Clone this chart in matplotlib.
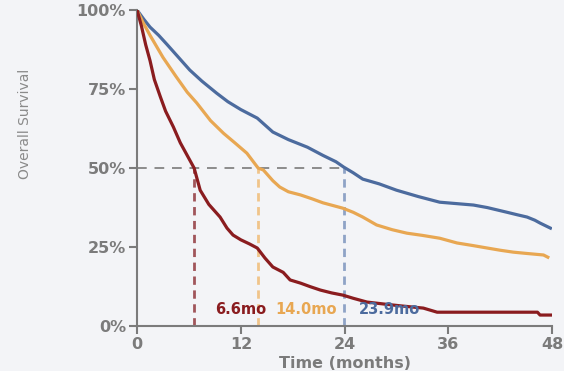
import matplotlib.pyplot as plt

# Kaplan-Meier style curves (months, % surviving)
red_t = [0, 0.5, 1.0, 1.5, 2.0, 2.7, 3.3, 4.2, 5.0, 5.8, 6.6, 7.3, 8.3, 9.6, 10.4, 11.1, 12.0, 13.0, 13.9, 14.8,
         15.7, 16.9, 17.7, 18.9, 20.0, 21.2, 22.5, 23.8, 25.0, 26.6, 28.5, 30.5, 33.1, 34.7, 40.0, 46.3, 46.6, 48.0]
red_s = [100, 95, 89, 84, 78, 72.5, 68, 63, 58, 54, 50, 43, 38.5, 34.5, 31, 28.8, 27.3, 26, 24.7, 21.5,
         18.7, 17, 14.6, 13.6, 12.5, 11.4, 10.5, 9.8, 8.8, 7.6, 7.0, 6.4, 5.7, 4.4, 4.4, 4.4, 3.5, 3.5]

orange_t = [0, 0.7, 1.5, 3.0, 4.5, 5.8, 6.9, 8.5, 10.0, 11.3, 12.7, 14.0, 14.6, 15.7, 16.5, 17.5, 18.9, 20.2, 21.5,
            23.8, 25.0, 26.1, 27.7, 29.5, 31.2, 33.0, 35.0, 37.0, 38.8, 40.5, 42.0, 43.5, 45.0, 47.0, 47.5]
orange_s = [100, 96, 92, 85, 79, 74, 70.6, 65, 61, 58, 54.7, 50, 49.4, 46, 44, 42.5, 41.5, 40.3, 39,
            37.3, 36, 34.5, 32, 30.5, 29.4, 28.7, 27.8, 26.3, 25.5, 24.7, 24, 23.4, 23, 22.5, 21.8]

blue_t = [0, 0.8, 1.5, 2.5, 3.5, 4.8, 6.1, 7.5, 9.2, 10.5, 12.0, 13.9, 15.7, 17.5, 19.7, 21.5, 23.0, 23.9,
          25.0, 26.1, 28.0, 30.0, 32.5, 35.0, 38.9, 40.5, 42.8, 44.0, 45.1, 46.0, 46.6, 47.2, 47.8]
blue_s = [100, 97, 94.6, 92, 89, 85, 81, 77.5, 73.7, 71, 68.5, 65.8, 61.4, 59, 56.6, 54, 52, 50.3,
          48.5, 46.5, 45, 43, 41, 39.2, 38.3, 37.5, 36, 35.2, 34.5, 33.5, 32.6, 31.8, 31]

medians = [6.6, 14.0, 23.9]
median_labels = ['6.6mo', '14.0mo', '23.9mo']
label_x = [9.0, 16.0, 25.6]

red = '#8a1c1f'
orange = '#e8a752'
blue = '#4c6b9e'
grey = '#7b7b7b'
bg = '#f3f4f7'

fig = plt.figure(figsize=(5.64, 3.71), dpi=100, facecolor=bg)
ax = fig.add_axes([0.243, 0.121, 0.736, 0.852])
ax.set_facecolor(bg)

# median guide lines
ax.plot([0, medians[2]], [50, 50], color='#8c8c8c', lw=1.4, ls=(0, (5, 4)), zorder=1)
for m, c in zip(medians, ['#a0555a', '#f0c48a', '#8ea3c6']):
    ax.plot([m, m], [0, 50], color=c, lw=2.0, ls=(0, (3, 2)), zorder=1)

ax.plot(blue_t, blue_s, color=blue, lw=2.3, zorder=3)
ax.plot(orange_t, orange_s, color=orange, lw=2.3, zorder=3)
ax.plot(red_t, red_s, color=red, lw=2.3, zorder=3)

for x, lab, c in zip(label_x, median_labels, [red, orange, blue]):
    ax.text(x, 5.2, lab, color=c, fontsize=10.5, fontweight='bold', ha='left', va='center', zorder=4)

ax.set_xlim(0, 48)
ax.set_ylim(0, 100)
ax.set_xticks([0, 12, 24, 36, 48])
ax.set_yticks([0, 25, 50, 75, 100])
ax.set_yticklabels(['0%', '25%', '50%', '75%', '100%'])

for s in ['top', 'right']:
    ax.spines[s].set_visible(False)
for s in ['left', 'bottom']:
    ax.spines[s].set_color(grey)
    ax.spines[s].set_linewidth(1.5)
ax.tick_params(colors=grey, width=1.5, length=6, labelsize=11.5, pad=2)
for lab in ax.get_xticklabels() + ax.get_yticklabels():
    lab.set_fontweight('bold')

ax.set_xlabel('Time (months)', color=grey, fontsize=11.5, fontweight='bold', labelpad=3)
fig.text(0.044, 0.666, 'Overall Survival', rotation=90, color='#8a8a8a', fontsize=10,
         family='Liberation Sans Narrow', ha='center', va='center')

fig.savefig('out.png', dpi=100, facecolor=bg)
